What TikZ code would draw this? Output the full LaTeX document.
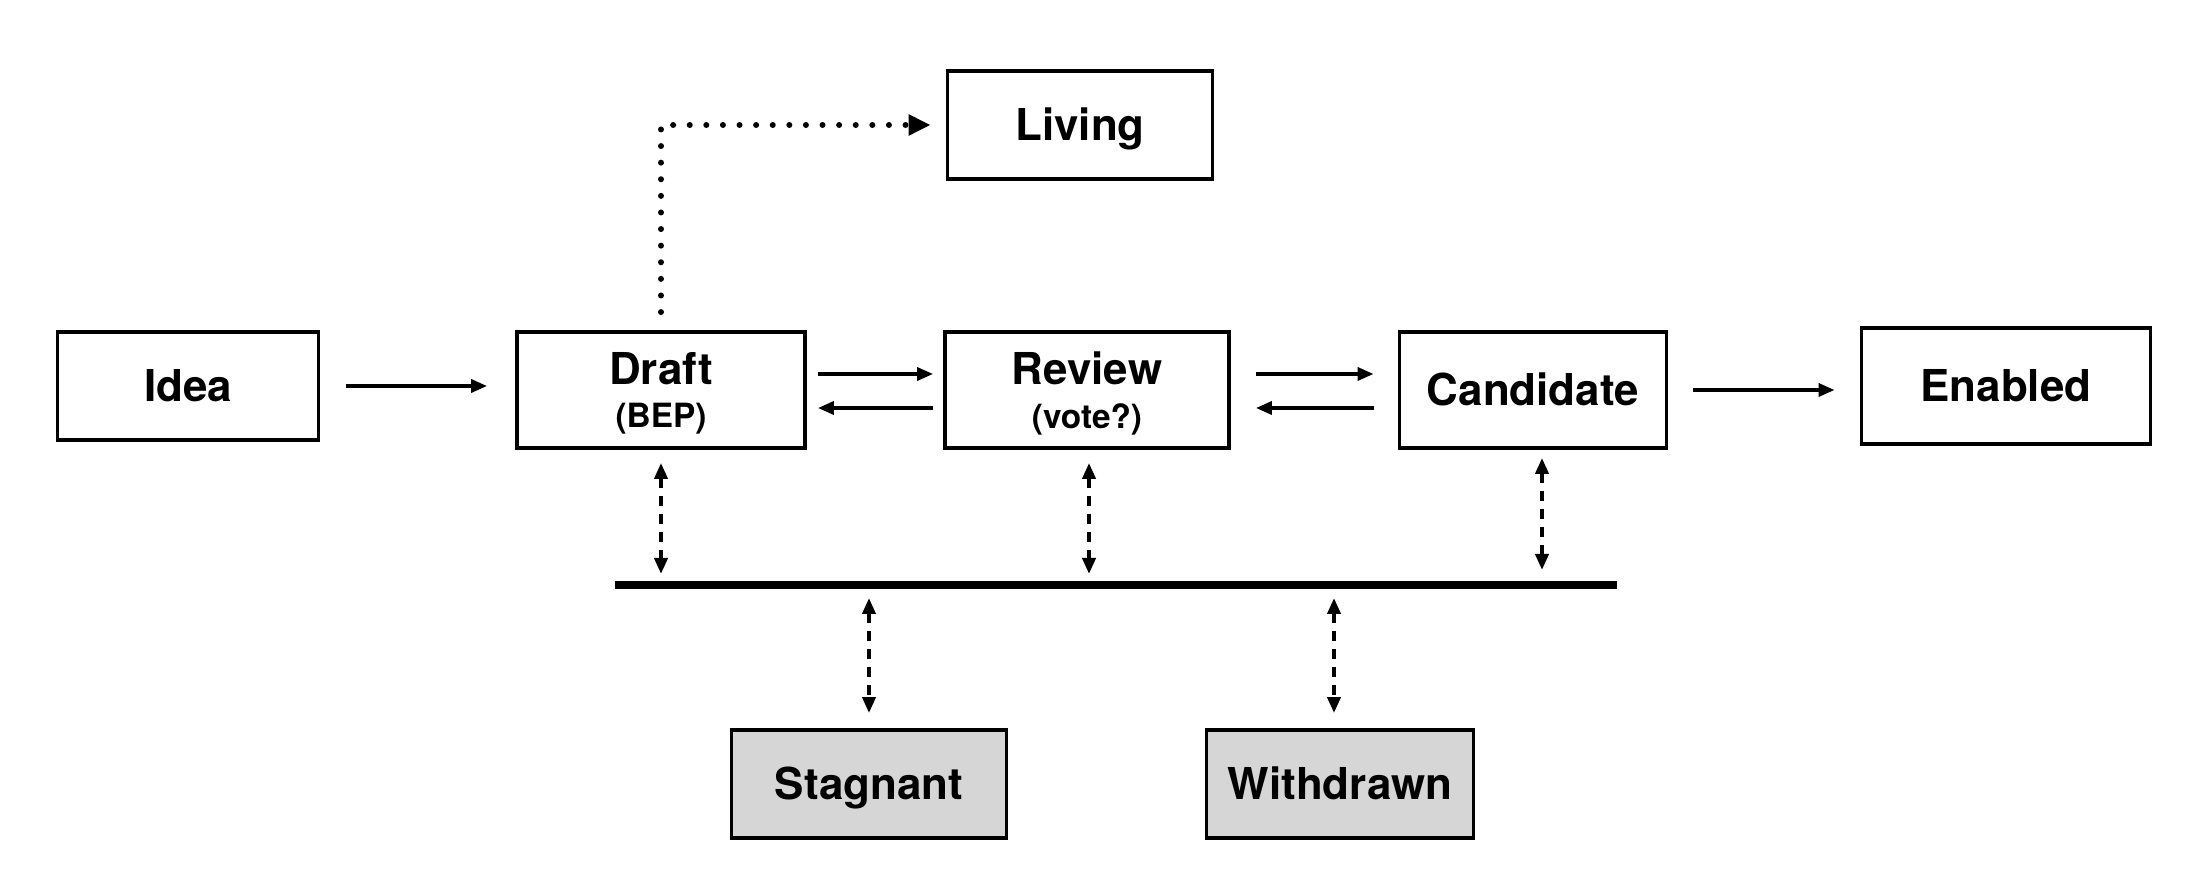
\documentclass[tikz,border=0pt]{standalone}
\usepackage{fontspec}
\setmainfont{TeX Gyre Heros}
\usepackage{xcolor}
\usetikzlibrary{
	arrows.meta,
	calc,
	positioning
}
\definecolor{boxgrey}{HTML}{D6D6D6}

\begin{document}
\begin{tikzpicture}[
		box/.style={draw, line width=1.1pt, inner sep=0pt, minimum height=1.08cm, align=center, text height=9pt, text depth=0pt, font=\fontsize{12.5}{14}\selectfont\bfseries},
		twoline/.style={box, minimum height=1.16cm, text height=, text depth=0pt},
		greybox/.style={box, fill=boxgrey},
		arr/.style={line width=1pt, -{Triangle[length=0.16cm,width=0.13cm]}},
		dblarr/.style={line width=1.1pt, dash pattern=on 0.1cm off 0.08cm, {Triangle[length=0.16cm,width=0.13cm]}-{Triangle[length=0.16cm,width=0.13cm]}},
		dotarr/.style={line width=0.06cm, line cap=round, dash pattern=on 0pt off 0.166cm, -{Triangle[length=0.22cm,width=0.2cm]}}
	]
		\useasboundingbox (0,0) rectangle (21.90,8.92);
		% main line
		\node[box, minimum width=2.61cm] (idea) at (1.88,5.06) {Idea};
		\node[twoline, minimum width=2.88cm] (draft) at (6.61,5.02) {Draft\\[-1.6pt]{\fontsize{9.5}{11}\selectfont (BEP)}};
		\node[twoline, minimum width=2.84cm] (review) at (10.87,5.02) {Review\\[-1.6pt]{\fontsize{9.5}{11}\selectfont (vote?)}};
		\node[box, minimum width=2.67cm, minimum height=1.16cm] (cand) at (15.33,5.02) {Candidate};
		\node[box, minimum width=2.89cm, minimum height=1.16cm] (enabled) at (20.06,5.06) {Enabled};
		\node[box, minimum width=2.65cm] (living) at (10.80,7.67) {Living};
		% side states
		\node[greybox, minimum width=2.75cm] (stag) at (8.69,1.08) {Stagnant};
		\node[greybox, minimum width=2.67cm] (withdr) at (13.40,1.08) {Withdrawn};
		\coordinate (barL) at (6.15,3.07);
		\coordinate (barR) at (16.17,3.07);
		\draw[line width=2.4pt] (barL) -- (barR);
		% transitions
		\draw[arr, shorten <=0.26cm, shorten >=0.28cm] (idea.east) -- (idea.east -| draft.west);
		\draw[arr, shorten <=0.11cm, shorten >=0.10cm] ([yshift=0.16cm]draft.east) -- ([yshift=0.16cm]review.west);
		\draw[arr, shorten <=0.10cm, shorten >=0.11cm] ([yshift=-0.18cm]review.west) -- ([yshift=-0.18cm]draft.east);
		\draw[arr, shorten <=0.25cm, shorten >=0.24cm] ([yshift=0.16cm]review.east) -- ([yshift=0.16cm]cand.west);
		\draw[arr, shorten <=0.24cm, shorten >=0.25cm] ([yshift=-0.18cm]cand.west) -- ([yshift=-0.18cm]review.east);
		\draw[arr, shorten <=0.25cm, shorten >=0.25cm] (cand.east) -- (cand.east -| enabled.west);
		\draw[dotarr, shorten >=0.15cm] ([yshift=0.18cm]draft.north) |- (living.west);
		% to and from the bar
		\draw[dblarr, shorten <=0.13cm, shorten >=0.11cm] (draft.south) -- (draft.south |- barL);
		\draw[dblarr, shorten <=0.13cm, shorten >=0.11cm] ([xshift=0.02cm]review.south) -- ([xshift=0.02cm]review.south |- barL);
		\draw[dblarr, shorten <=0.08cm, shorten >=0.15cm] ([xshift=0.09cm]cand.south) -- ([xshift=0.09cm]cand.south |- barL);
		\draw[dblarr, shorten <=0.13cm, shorten >=0.15cm] (stag.north |- barL) -- (stag.north);
		\draw[dblarr, shorten <=0.13cm, shorten >=0.15cm] ([xshift=-0.06cm]withdr.north |- barL) -- ([xshift=-0.06cm]withdr.north);
	\end{tikzpicture}
\end{document}
